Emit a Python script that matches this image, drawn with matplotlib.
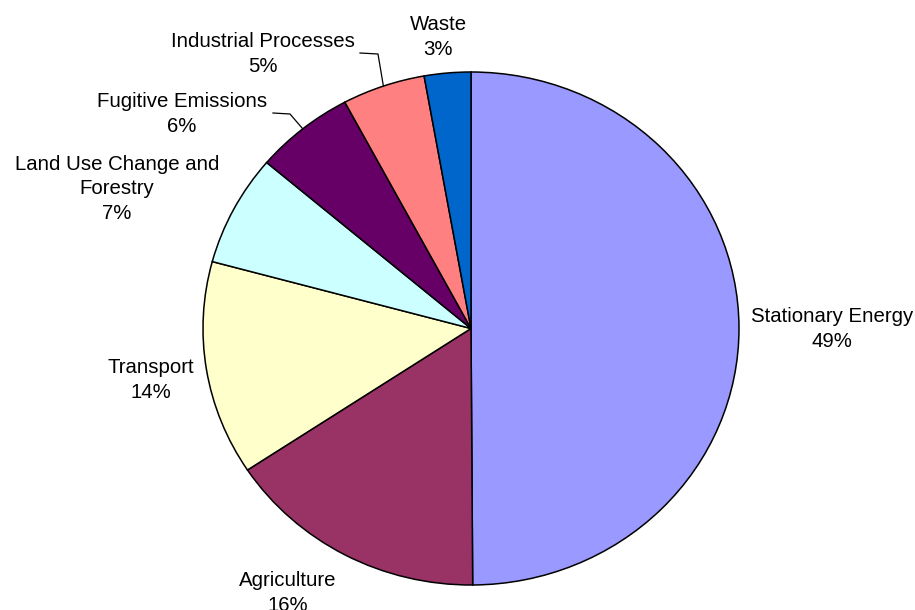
import matplotlib.pyplot as plt
from matplotlib.lines import Line2D
import numpy as np

sectors = ['Stationary Energy', 'Agriculture', 'Transport',
           'Land Use Change and\nForestry', 'Fugitive Emissions',
           'Industrial Processes', 'Waste']
shares = [49.9, 15.8, 13.5, 7.0, 6.0, 5.0, 2.8]
pct_labels = ['49%', '16%', '14%', '7%', '6%', '5%', '3%']
colors = ['#9999FF', '#993366', '#FFFFCC', '#CCFFFF', '#660066', '#FF8080', '#0066CC']

# label block centres, pixels from top-left of the image
label_px = [(832, 329), (288, 593), (151, 380), (117, 189), (182, 114), (263, 54), (438, 37)]
# leader lines: (start, elbow) in pixels, the end goes to the wedge edge
leader_px = [None, None, None, None, ((273, 113), (290, 114)), ((360, 53), (378, 54)), None]

W, H = 915, 610
fig = plt.figure(figsize=(W / 100, H / 100), dpi=100)
ax = fig.add_axes([203 / W, 25 / H, 536 / W, 513 / H])
wedges, _ = ax.pie(shares, colors=colors, startangle=90, counterclock=False,
                   wedgeprops=dict(edgecolor='black', linewidth=1.1))
ax.set_aspect('auto')
ax.set_xlim(-1, 1)
ax.set_ylim(-1, 1)

def px(p):
    return p[0] / W, 1 - p[1] / H

for i, w in enumerate(wedges):
    x, y = px(label_px[i])
    fig.text(x, y, sectors[i] + '\n' + pct_labels[i], ha='center', va='center',
             fontsize=14.7, family=['Liberation Sans', 'DejaVu Sans'], linespacing=1.35)
    if leader_px[i] is not None:
        mid = np.deg2rad((w.theta1 + w.theta2) / 2)
        edge = ax.transData.transform((np.cos(mid), np.sin(mid)))
        ex, ey = fig.transFigure.inverted().transform(edge)
        (sx, sy), (bx, by) = px(leader_px[i][0]), px(leader_px[i][1])
        fig.add_artist(Line2D([sx, bx, ex], [sy, by, ey], transform=fig.transFigure,
                              color='black', lw=0.9))

fig.savefig('out.png', dpi=100)
